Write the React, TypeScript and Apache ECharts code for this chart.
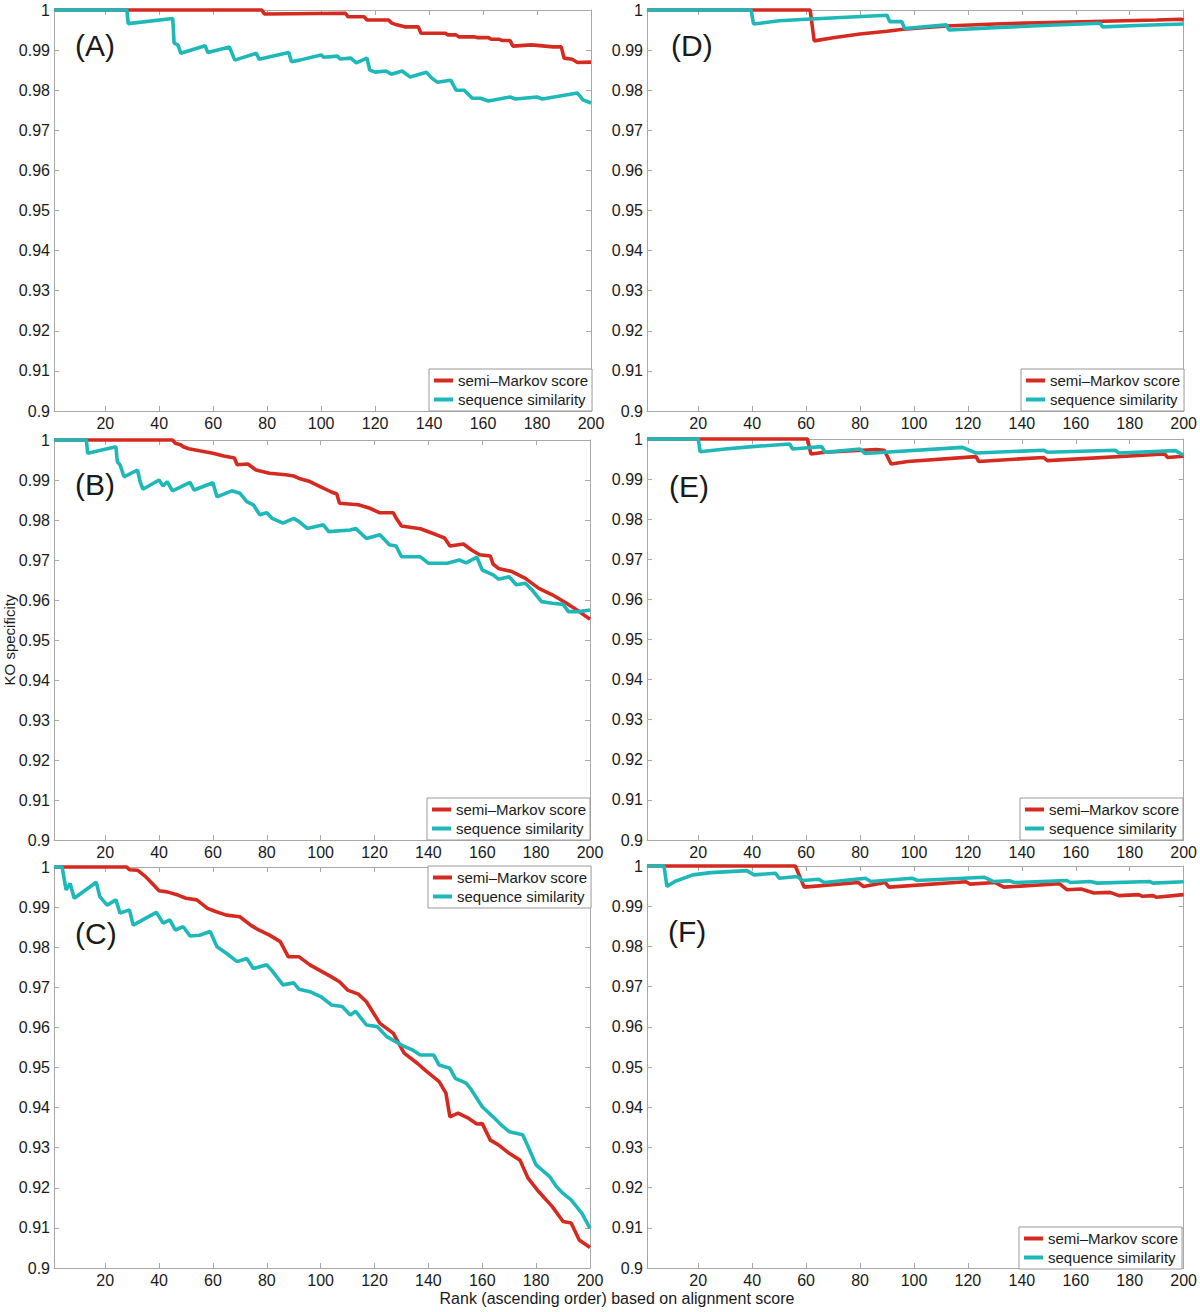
import React, { useEffect, useRef } from 'react';
import * as echarts from 'echarts';

// ---------- data ----------
const seriesNames = ['semi\u2013Markov score', 'sequence similarity'];
const panelLabels = ['(A)', '(B)', '(C)', '(D)', '(E)', '(F)'];
const xTicks = [20, 40, 60, 80, 100, 120, 140, 160, 180, 200];
const yTickMin = 0.9;
const yTickMax = 1;
const yTickStep = 0.01;
const xAxisTitle = 'Rank (ascending order) based on alignment score';
const yAxisTitle = 'KO specificity';

const semiMarkovA = [[1,1],[78,1],[79,0.999],[109,0.9992],[110,0.9983],[116,0.9983],[117,0.9975],[125,0.9975],[126,0.9968],[128,0.9963],[131,0.9958],[136,0.9958],[137,0.9942],[146,0.9942],[147,0.9938],[150,0.9938],[151,0.9933],[157,0.9933],[158,0.9931],[162,0.9931],[163,0.9927],[166,0.9927],[167,0.9924],[170,0.9924],[171,0.991],[178,0.9913],[186,0.9908],[189,0.9908],[190,0.988],[193,0.9877],[195,0.9869],[200,0.987]];
const seqSimA = [[1,1],[28,1],[28.5,0.9966],[45,0.9979],[45.5,0.9918],[47,0.9912],[48,0.9892],[57,0.9911],[58,0.9894],[66,0.9908],[68,0.9875],[76,0.9892],[77,0.9877],[88,0.9894],[89,0.9871],[92,0.9875],[100,0.9888],[101,0.9882],[106,0.9885],[107,0.9878],[111,0.988],[113,0.9868],[117,0.988],[118,0.985],[120,0.9845],[124,0.9848],[126,0.984],[130,0.9848],[133,0.9833],[139,0.9845],[141,0.983],[143,0.982],[148,0.9825],[150,0.98],[153,0.98],[156,0.978],[159,0.978],[162,0.9773],[170,0.9783],[172,0.9778],[180,0.9783],[182,0.9778],[195,0.9793],[197,0.9776],[200,0.9768]];

const semiMarkovB = [[1,1],[45,1],[46,0.9992],[48,0.9988],[49,0.9983],[51,0.9978],[55,0.9973],[60,0.9967],[64,0.996],[68,0.9955],[69,0.9938],[73,0.994],[75,0.993],[76,0.9925],[81,0.9917],[87,0.9913],[90,0.991],[92,0.9904],[96,0.9896],[100,0.9883],[104,0.987],[106,0.9865],[107,0.9842],[114,0.9838],[118,0.983],[122,0.9818],[127,0.9818],[128,0.9805],[130,0.9785],[137,0.9778],[143,0.9763],[146,0.9755],[148,0.9735],[153,0.974],[156,0.9725],[159,0.9713],[163,0.971],[164,0.969],[166,0.9679],[171,0.9671],[176,0.9654],[181,0.9629],[186,0.9613],[191,0.9593],[196,0.9571],[200,0.9552]];
const seqSimB = [[1,1],[13,1],[13.5,0.9967],[24,0.9983],[24.5,0.9946],[25.5,0.9938],[27,0.9908],[32,0.9925],[33,0.9895],[34,0.9877],[40,0.99],[41.5,0.9885],[43,0.9896],[45,0.9873],[51.5,0.9894],[53,0.9875],[60,0.9893],[61.5,0.9858],[67,0.9873],[70,0.9867],[72.6,0.9846],[75,0.9838],[77.4,0.9813],[80,0.9818],[82,0.9804],[86,0.9792],[90,0.9804],[92,0.9796],[95,0.9779],[101,0.9788],[103,0.9771],[111,0.9775],[113,0.9779],[115.5,0.9763],[117,0.9754],[122,0.9763],[125.5,0.9738],[128,0.9735],[130,0.9708],[137,0.9708],[140,0.9692],[147,0.9692],[151.5,0.97],[154,0.9693],[158,0.9707],[160,0.9675],[164,0.9663],[166,0.9652],[170,0.9658],[172.6,0.9638],[176,0.9642],[178.5,0.9625],[182,0.9596],[186,0.9592],[190,0.9589],[192,0.9571],[196,0.9571],[200,0.9575]];

const semiMarkovC = [[1,1],[28,1],[29,0.9993],[32,0.9992],[35,0.9976],[38,0.9955],[40,0.9941],[43,0.9938],[47,0.993],[50,0.9922],[54,0.9918],[58,0.9897],[61,0.9889],[65,0.988],[70,0.9876],[74,0.9855],[77,0.9843],[81,0.983],[85,0.9814],[88,0.9776],[92,0.9776],[96,0.9756],[100,0.9741],[104,0.9726],[107,0.9714],[110,0.9693],[114,0.9683],[117,0.9664],[122,0.961],[127,0.9585],[129,0.956],[131,0.9536],[136,0.951],[139,0.9492],[144,0.9465],[146.5,0.9436],[148,0.9377],[151,0.9386],[155,0.9373],[158,0.9359],[160,0.936],[163,0.9319],[166,0.9307],[170,0.9286],[174,0.9269],[177,0.9224],[181,0.919],[186,0.9153],[190,0.9116],[193,0.9112],[196,0.907],[200,0.9051]];
const seqSimC = [[1,1],[4,1],[5.5,0.9943],[7,0.9959],[8.5,0.9922],[16.7,0.9962],[18,0.9926],[20.7,0.9905],[24,0.9918],[25.5,0.9885],[29,0.9893],[30.4,0.9855],[39,0.9887],[41.5,0.986],[44,0.9868],[46,0.9843],[49,0.9851],[51.5,0.9828],[55,0.983],[59,0.9839],[61.5,0.9801],[65,0.9785],[69,0.9764],[72.6,0.9772],[75,0.9747],[80,0.9756],[82,0.9741],[86,0.9706],[90,0.9711],[92,0.9695],[96,0.9689],[100,0.9677],[104,0.9656],[108,0.9652],[111,0.9631],[113,0.964],[117,0.9606],[121,0.9602],[124.5,0.9577],[128,0.9564],[130,0.9556],[134,0.9544],[137,0.9531],[142,0.9531],[144,0.9506],[148,0.9498],[150,0.9473],[154,0.9461],[156,0.9444],[160,0.9402],[164,0.9377],[167,0.9357],[170,0.934],[175,0.9332],[177,0.9303],[180,0.9257],[185,0.9228],[187.5,0.9203],[190,0.9186],[193,0.917],[197,0.9136],[200,0.9099]];

const semiMarkovD = [[1,1],[61.5,1],[63,0.9923],[70,0.9931],[80,0.994],[90,0.9947],[96,0.9952],[112,0.996],[130,0.9965],[150,0.9969],[170,0.9972],[190,0.9975],[199,0.9977],[200,0.9975]];
const seqSimD = [[1,1],[39.6,1],[40.5,0.9965],[50,0.9973],[60,0.9977],[75,0.9982],[90,0.9987],[91,0.9971],[95.5,0.9971],[96.5,0.9954],[112,0.9963],[113,0.995],[130,0.9956],[150,0.9962],[169,0.9967],[170,0.9958],[185,0.9962],[200,0.9965]];

const semiMarkovE = [[1,1],[60.5,1],[61.8,0.99625],[67,0.9967],[86,0.9974],[89,0.9972],[91.5,0.99375],[97.7,0.9944],[123,0.9956],[124,0.9944],[148,0.9954],[149.5,0.9946],[193,0.99625],[194,0.9954],[200,0.9957]];
const seqSimE = [[1,1],[20,1],[20.7,0.99683],[30,0.9975],[40,0.9981],[53.9,0.99875],[55,0.9975],[65.8,0.9981],[67,0.9967],[80,0.9975],[81.8,0.9964],[118,0.9979],[123,0.9965],[148,0.9972],[149.5,0.9967],[174.7,0.9972],[176,0.9965],[197,0.9971],[199,0.99625],[200,0.9962]];

const semiMarkovF = [[1,1],[56,1],[59.3,0.99475],[79.3,0.9959],[81.3,0.9949],[89.3,0.9959],[90.7,0.99475],[119.3,0.9961],[120.7,0.9955],[130,0.9959],[133.3,0.99475],[154,0.99557],[156.7,0.9941],[162,0.99426],[166.7,0.99328],[172.7,0.99344],[176,0.99262],[183.3,0.99287],[184.7,0.99246],[188.7,0.99262],[190,0.99221],[200,0.99287]];
const seqSimF = [[1,1],[7.3,1],[8.4,0.99492],[11.3,0.99615],[18,0.99779],[24.7,0.99836],[38,0.99885],[40.7,0.99779],[48.7,0.9982],[50,0.99697],[56.7,0.99738],[58.7,0.99639],[64.7,0.99672],[66.7,0.9959],[82,0.99697],[84,0.99615],[99.3,0.99697],[101.3,0.99639],[126,0.99721],[129.3,0.99615],[135.3,0.99631],[137.3,0.9959],[156.7,0.99639],[158,0.9959],[165.3,0.99615],[168,0.99574],[187.3,0.99615],[188.7,0.99574],[200,0.99607]];

const semiMarkovSeries = [semiMarkovA, semiMarkovB, semiMarkovC, semiMarkovD, semiMarkovE, semiMarkovF];
const seqSimSeries = [seqSimA, seqSimB, seqSimC, seqSimD, seqSimE, seqSimF];

// ---------- layout ----------
const FONT = "'Liberation Sans', Arial, Helvetica, sans-serif";
const RED = '#d52a1f';
const TEAL = '#1fb8b8';
const AXIS = '#a8a8a8';
const TEXT = '#1a1a1a';

const grids = [
  { left: 54, top: 10, width: 537, height: 401 },
  { left: 54, top: 440, width: 536, height: 400 },
  { left: 54, top: 867, width: 536, height: 401 },
  { left: 647, top: 10, width: 537, height: 401 },
  { left: 647, top: 439, width: 537, height: 401 },
  { left: 647, top: 866, width: 537, height: 402 },
];
const legendPos = [
  { left: 429, top: 369 },
  { left: 427, top: 798 },
  { left: 428, top: 866 },
  { left: 1021, top: 369 },
  { left: 1020, top: 798 },
  { left: 1019, top: 1227 },
];
const labelPos = [
  { x: 75, y: 45 },
  { x: 75, y: 484 },
  { x: 75, y: 933 },
  { x: 671, y: 45 },
  { x: 669, y: 486 },
  { x: 668, y: 931 },
];

function buildOption() {
  const xAxis: any[] = [];
  const yAxis: any[] = [];
  const series: any[] = [];
  grids.forEach((_, i) => {
    const common = {
      gridIndex: i,
      type: 'value',
      min: 1,
      max: 200,
      axisLine: { show: true, onZero: false, lineStyle: { color: AXIS, width: 1 } },
      axisTick: { show: true, inside: true, length: 5, customValues: xTicks, lineStyle: { color: AXIS } },
      splitLine: { show: false },
    };
    xAxis.push({
      ...common,
      position: 'bottom',
      axisLabel: { show: true, customValues: xTicks, color: TEXT, fontSize: 16, fontFamily: FONT, margin: 4 },
    });
    xAxis.push({ ...common, position: 'top', axisLabel: { show: false } });
    const ycommon = {
      gridIndex: i,
      type: 'value',
      min: yTickMin,
      max: yTickMax,
      interval: yTickStep,
      axisLine: { show: true, onZero: false, lineStyle: { color: AXIS, width: 1 } },
      axisTick: { show: true, inside: true, length: 5, lineStyle: { color: AXIS } },
      splitLine: { show: false },
    };
    yAxis.push({
      ...ycommon,
      position: 'left',
      axisLabel: {
        show: true, color: TEXT, fontSize: 16, fontFamily: FONT, margin: 4,
        formatter: (v: number) => String(Math.round(v * 100) / 100),
      },
    });
    yAxis.push({ ...ycommon, position: 'right', axisLabel: { show: false } });

    series.push({
      name: seriesNames[0],
      type: 'line',
      xAxisIndex: 2 * i,
      yAxisIndex: 2 * i,
      data: semiMarkovSeries[i],
      showSymbol: false,
      symbol: 'none',
      clip: false,
      color: RED,
      itemStyle: { color: RED },
      lineStyle: { color: RED, width: 3.6 },
      z: 2,
    });
    series.push({
      name: seriesNames[1],
      type: 'line',
      xAxisIndex: 2 * i,
      yAxisIndex: 2 * i,
      data: seqSimSeries[i],
      showSymbol: false,
      symbol: 'none',
      clip: false,
      color: TEAL,
      itemStyle: { color: TEAL },
      lineStyle: { color: TEAL, width: 3.6 },
      z: 3,
    });
  });

  const legend = legendPos.map((p) => ({
    left: p.left,
    top: p.top,
    orient: 'vertical',
    data: seriesNames,
    icon: 'rect',
    itemWidth: 19,
    itemHeight: 4,
    itemGap: 4,
    padding: [4, 4, 4, 5],
    borderColor: '#999',
    borderWidth: 1,
    backgroundColor: '#fff',
    selectedMode: false,
    textStyle: { fontSize: 15, color: TEXT, fontFamily: FONT },
    z: 10,
  }));

  const graphic: any[] = panelLabels.map((t, i) => ({
    type: 'text',
    x: labelPos[i].x,
    y: labelPos[i].y,
    z: 20,
    style: { text: t, font: `30px ${FONT}`, fill: TEXT, align: 'left', verticalAlign: 'middle' },
  }));
  graphic.push({
    type: 'text',
    x: 617,
    y: 1298,
    style: { text: xAxisTitle, font: `16px ${FONT}`, fill: TEXT, align: 'center', verticalAlign: 'middle' },
  });
  graphic.push({
    type: 'text',
    x: 9,
    y: 640,
    rotation: Math.PI / 2,
    style: { text: yAxisTitle, font: `15px ${FONT}`, fill: TEXT, align: 'center', verticalAlign: 'middle' },
  });

  return {
    animation: false,
    backgroundColor: '#fff',
    grid: grids.map((g) => ({ ...g, containLabel: false })),
    xAxis,
    yAxis,
    legend,
    series,
    graphic,
  };
}

export default function App() {
  const ref = useRef<HTMLDivElement>(null);
  useEffect(() => {
    document.body.style.margin = '0';
    if (!ref.current) return;
    const chart = echarts.init(ref.current, undefined, { renderer: 'svg' });
    chart.setOption(buildOption() as any);
    return () => chart.dispose();
  }, []);
  return <div ref={ref} style={{ width: 1200, height: 1312 }} />;
}
